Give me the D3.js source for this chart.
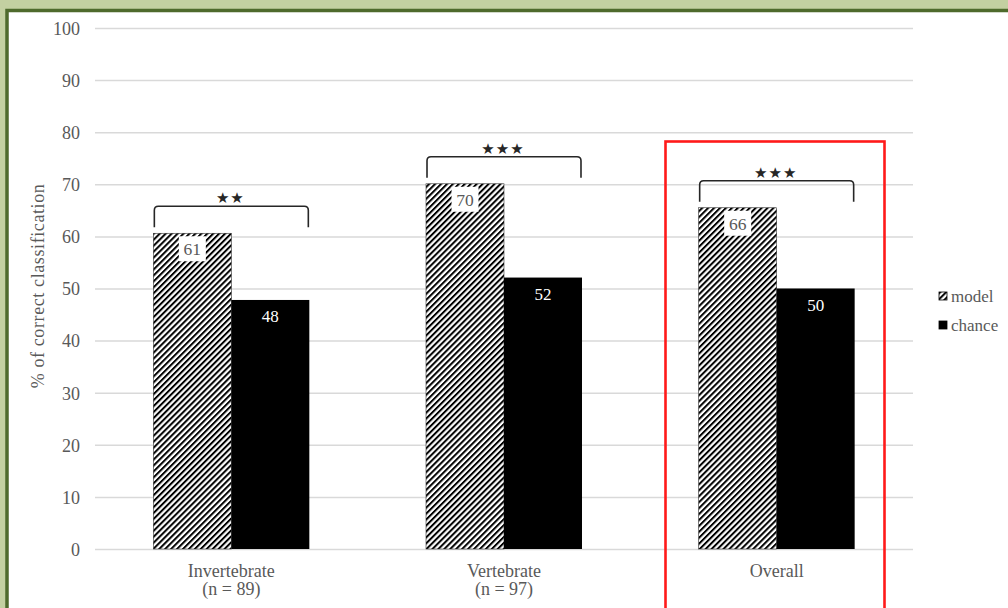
<!DOCTYPE html>
<meta charset="utf-8">
<style>
body { margin: 0; background: #c3d0a1; }
text { font-family: "Liberation Serif", "Times New Roman", serif; fill: #595959; }
.grid line { stroke: #d9d9d9; stroke-width: 1.5px; }
.grid path { stroke-width: 0; }
.tick text { font-size: 18px; }
.bar-chance { fill: #000; }
.bar-text { fill: #fff; font-size: 17px; }
.bracket { fill: none; stroke: #262626; stroke-width: 1.6px; }
</style>
<body>
<script src="https://d3js.org/d3.v7.min.js"></script>
<script>

    var categories = ["Invertebrate", "Vertebrate", "Overall"];
    var nLabels = ["(n = 89)", "(n = 97)", ""];
    var series = ["model", "chance"];
    var modelValues = [60.6, 70.1, 65.5];
    var chanceValues = [47.8, 52.1, 50.0];
    var modelLabels = ["61", "70", "66"];
    var chanceLabels = ["48", "52", "50"];
    var stars = ["**", "***", "***"];
    var yTicks = [0, 10, 20, 30, 40, 50, 60, 70, 80, 90, 100];

    var width = 1008, height = 608;

    var svg = d3.select("body").append("svg")
            .attr("width", width)
            .attr("height", height)
            .style("display", "block");

    // hatch pattern for the model bars
    var defs = svg.append("defs");
    var pat = defs.append("pattern")
            .attr("id", "hatch")
            .attr("patternUnits", "userSpaceOnUse")
            .attr("width", 4.2)
            .attr("height", 4.2)
            .attr("patternTransform", "rotate(45)");
    pat.append("rect").attr("width", 4.2).attr("height", 4.2).attr("fill", "#fff");
    pat.append("line")
            .attr("x1", 0).attr("y1", 0).attr("x2", 0).attr("y2", 4.2)
            .attr("stroke", "#000").attr("stroke-width", 4);

    // white panel with dark green border
    svg.append("rect")
            .attr("x", 7).attr("y", 10.5)
            .attr("width", 1010).attr("height", 610)
            .attr("fill", "#fff")
            .attr("stroke", "#4e6a2c")
            .attr("stroke-width", 3.5);

    var x0 = d3.scaleBand().domain(categories).range([95, 913]);
    var x1 = d3.scaleBand().domain(series).range([0, x0.bandwidth()]).paddingOuter(0.748);
    var y = d3.scaleLinear().domain([0, 100]).range([549, 28]);

    // grid + y labels
    svg.append("g")
            .attr("class", "grid")
            .attr("transform", "translate(95,0)")
            .call(d3.axisLeft(y).tickValues(yTicks).tickSize(-(913 - 95)).tickPadding(15))
            .call(function(g) { g.selectAll(".tick text").attr("dy", "0.35em"); });

    // model bars
    svg.append("g").selectAll("rect")
            .data(modelValues)
            .enter().append("rect")
            .attr("x", function(d, i) { return x0(categories[i]) + x1("model"); })
            .attr("width", x1.bandwidth())
            .attr("y", function(d) { return y(d); })
            .attr("height", function(d) { return y(0) - y(d); })
            .attr("fill", "url(#hatch)")
            .attr("stroke", "#333")
            .attr("stroke-width", 0.6);

    // chance bars
    svg.append("g").selectAll("rect")
            .data(chanceValues)
            .enter().append("rect")
            .attr("class", "bar-chance")
            .attr("x", function(d, i) { return x0(categories[i]) + x1("chance"); })
            .attr("width", x1.bandwidth())
            .attr("y", function(d) { return y(d); })
            .attr("height", function(d) { return y(0) - y(d); });

    // model value boxes
    var mLab = svg.append("g").selectAll("g")
            .data(modelValues)
            .enter().append("g")
            .attr("transform", function(d, i) {
                return "translate(" + (x0(categories[i]) + x1("model") + x1.bandwidth() / 2) + "," + y(d) + ")";
            });
    mLab.append("rect")
            .attr("x", -13.5).attr("y", 3)
            .attr("width", 27).attr("height", 25)
            .attr("fill", "#fff");
    mLab.append("text")
            .attr("text-anchor", "middle")
            .attr("y", 22)
            .style("font-size", "17.5px")
            .text(function(d, i) { return modelLabels[i]; });

    // chance value labels
    svg.append("g").selectAll("text")
            .data(chanceValues)
            .enter().append("text")
            .attr("class", "bar-text")
            .attr("text-anchor", "middle")
            .attr("x", function(d, i) { return x0(categories[i]) + x1("chance") + x1.bandwidth() / 2; })
            .attr("y", function(d) { return y(d) + 22; })
            .text(function(d, i) { return chanceLabels[i]; });

    // significance brackets
    var br = svg.append("g").selectAll("g")
            .data(modelValues)
            .enter().append("g");
    br.append("path")
            .attr("class", "bracket")
            .attr("d", function(d, i) {
                var xa = x0(categories[i]) + x1("model") + 1;
                var xb = x0(categories[i]) + x1("chance") + x1.bandwidth() - 1;
                var top = y(d) - 27, bot = y(d) - 6, r = 4;
                return "M" + xa + "," + bot + "V" + (top + r) + "Q" + xa + "," + top + " " + (xa + r) + "," + top +
                       "H" + (xb - r) + "Q" + xb + "," + top + " " + xb + "," + (top + r) + "V" + bot;
            });
    br.append("text")
            .attr("text-anchor", "middle")
            .attr("x", function(d, i) { return x0(categories[i]) + x0.bandwidth() / 2 - 1; })
            .attr("y", function(d) { return y(d) - 30; })
            .style("fill", "#262626")
            .style("font-family", "DejaVu Sans, sans-serif")
            .style("font-size", "15px")
            .style("letter-spacing", "1px")
            .text(function(d, i) { return stars[i].replace(/\*/g, "\u2605"); });

    // category labels
    var cat = svg.append("g").selectAll("text")
            .data(categories)
            .enter().append("text")
            .attr("text-anchor", "middle")
            .attr("x", function(d) { return x0(d) + x0.bandwidth() / 2; })
            .attr("y", 577)
            .style("font-size", "18px");
    cat.append("tspan").text(function(d) { return d; });
    cat.append("tspan")
            .attr("x", function(d) { return x0(d) + x0.bandwidth() / 2; })
            .attr("dy", 18)
            .text(function(d, i) { return nLabels[i]; });

    // y axis title
    svg.append("text")
            .attr("transform", "translate(44," + y(50.5) + ") rotate(-90)")
            .attr("text-anchor", "middle")
            .style("font-size", "18px")
            .style("letter-spacing", "0.6px")
            .text("% of correct classification");

    // highlight box round "Overall"
    svg.append("rect")
            .attr("x", 665.5).attr("y", 141.5)
            .attr("width", 219).attr("height", 480)
            .attr("fill", "none")
            .attr("stroke", "#ff1a1a")
            .attr("stroke-width", 2.6);

    // legend
    var leg = svg.append("g").selectAll("g")
            .data(series)
            .enter().append("g")
            .attr("transform", function(d, i) { return "translate(939," + (292 + i * 29) + ")"; });
    leg.append("rect")
            .attr("width", 8).attr("height", 8)
            .attr("fill", function(d) { return d === "model" ? "url(#hatch)" : "#000"; })
            .attr("stroke", "#000").attr("stroke-width", 0.8);
    leg.append("text")
            .attr("x", 12).attr("y", 10)
            .style("font-size", "17px")
            .text(function(d) { return d; });

</script>
</body>
